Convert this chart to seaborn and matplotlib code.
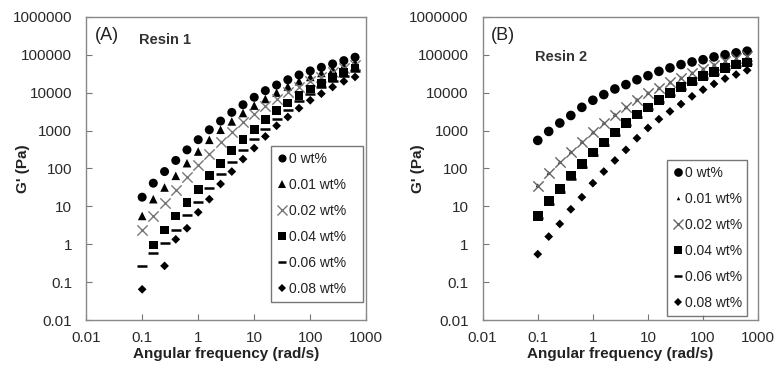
import numpy as np
import pandas as pd
import matplotlib
matplotlib.use("Agg")
import matplotlib.pyplot as plt
import seaborn as sns
from matplotlib.lines import Line2D

sns.set_theme(style="white")
plt.rcParams['font.family'] = ['Liberation Sans', 'DejaVu Sans']

freq = [0.1, 0.158, 0.251, 0.398, 0.631, 1.0, 1.58, 2.51, 3.98, 6.31,
        10.0, 15.8, 25.1, 39.8, 63.1, 100.0, 158.0, 251.0, 398.0, 631.0]

series_labels = ["0 wt%", "0.01 wt%", "0.02 wt%", "0.04 wt%", "0.06 wt%", "0.08 wt%"]

# Resin 1 (panel A); None = point not shown
r1_0 = [17.5, 41, 83, 163, 310, 575, 1050, 1780, 3020, 4800,
        7550, 11300, 15900, 21900, 29300, 37500, 46600, 57300, 70000, 86000]
r1_001 = [5.6, 15.5, 31.5, 64, 138, 280, 570, 1050, 1740, 2900,
          4550, 6800, 10000, 14500, 20000, 26000, 33000, 41000, 50000, 62000]
r1_002 = [2.4, 5.6, 12.6, 27, 61, 125, 245, 490, 890, 1650,
          2780, 4360, 6800, 10200, 14100, 19900, 26000, 35000, 45000, 54000]
r1_004 = [None, 0.96, 2.4, 5.6, 12.9, 28, 64, 138, 293, 570,
          1050, 1940, 3330, 5350, 8300, 12500, 18000, 25500, 34500, 45000]
r1_006 = [0.26, 0.58, 1.1, 2.4, 6.0, 13.4, 30, 71, 152, 300,
          600, 1100, 2000, 3550, 5900, 9200, 14000, 20500, 28000, 38000]
r1_008 = [0.065, None, 0.27, 1.35, 2.65, 7.0, 15.5, 39, 83, 177,
          345, 700, 1340, 2280, 3900, 6300, 9400, 14100, 19900, 26000]

# Resin 2 (panel B)
r2_0 = [550, 950, 1580, 2500, 4100, 6300, 8900, 12500, 16300, 21900,
        28000, 36500, 45000, 55000, 64500, 74000, 87500, 100000, 112000, 124000]
r2_001 = [36, 76, 148, 275, 510, 900, 1600, 2650, 4150, 6550,
          9900, 13300, 18800, 24600, 33000, 43000, 55000, 67000, 80000, 92000]
r2_002 = [35, 75, 145, 270, 500, 890, 1580, 2630, 4100, 6500,
          9800, 13200, 18700, 24500, 33000, 43000, 55000, 67000, 80000, 92000]
r2_004 = [5.6, 14, 29, 65, 130, 265, 490, 890, 1580, 2630,
          4100, 6500, 9800, 14100, 19900, 27000, 35000, 45000, 55000, 63000]
r2_006 = [4.9, 11.5, 24, 53, 110, 225, 420, 770, 1380, 2300,
          3600, 5800, 8800, 12800, 18000, 24500, 32000, 41000, 51000, 58000]
r2_008 = [0.55, 1.6, 3.45, 8.4, 17.5, 41, 83, 163, 310, 630,
          1170, 2000, 3200, 5000, 8000, 12000, 17000, 23500, 30000, 39000]

yticks = [0.01, 0.1, 1, 10, 100, 1000, 10000, 100000, 1000000]
ytick_labels = ["0.01", "0.1", "1", "10", "100", "1000", "10000", "100000", "1000000"]
xticks = [0.01, 0.1, 1, 10, 100, 1000]
xtick_labels = ["0.01", "0.1", "1", "10", "100", "1000"]

styles_A = [
    dict(marker="o", s=42, color="black", linewidth=0),
    dict(marker="^", s=38, color="black", linewidth=0),
    dict(marker="x", s=55, color="#777777", linewidth=1.0),
    dict(marker="s", s=40, color="black", linewidth=0),
    dict(marker="_", s=50, color="black", linewidth=1.8),
    dict(marker="D", s=20, color="black", linewidth=0),
]
styles_B = [
    dict(marker="o", s=48, color="black", linewidth=0),
    dict(marker="^", s=8, color="black", linewidth=0),
    dict(marker="x", s=55, color="#666666", linewidth=1.0),
    dict(marker="s", s=48, color="black", linewidth=0),
    dict(marker="_", s=50, color="black", linewidth=1.8),
    dict(marker="D", s=20, color="black", linewidth=0),
]


def make_df(cols):
    rows = []
    for lab, vals in zip(series_labels, cols):
        for f, v in zip(freq, vals):
            if v is not None:
                rows.append((f, v, lab))
    return pd.DataFrame(rows, columns=["freq", "G", "conc"])


fig = plt.figure(figsize=(7.76, 3.74), dpi=100)
axA = fig.add_axes([0.111, 0.144, 0.361, 0.811])
axB = fig.add_axes([0.622, 0.144, 0.355, 0.811])

panels = [
    (axA, make_df([r1_0, r1_001, r1_002, r1_004, r1_006, r1_008]), styles_A,
     "(A)", "Resin 1", (0.19, 0.925), (0.66, 0.06, 0.33, 0.5), -0.2),
    (axB, make_df([r2_0, r2_001, r2_002, r2_004, r2_006, r2_008]), styles_B,
     "(B)", "Resin 2", (0.19, 0.868), (0.669, 0.013, 0.29, 0.5), -0.21),
]

for ax, df, styles, tag, resin, rpos, lbox, ylx in panels:
    handles = []
    for lab, st in zip(series_labels, styles):
        sub = df[df["conc"] == lab]
        sns.scatterplot(data=sub, x="freq", y="G", ax=ax, marker=st["marker"],
                        s=st["s"], color=st["color"], linewidth=st["linewidth"],
                        edgecolor=st["color"] if st["marker"] in ("x", "_") else "none",
                        legend=False, zorder=3)
        ms = np.sqrt(st["s"]) * 0.9
        if st["marker"] in ("x", "_"):
            h = Line2D([], [], linestyle="", marker=st["marker"], markersize=ms,
                       color=st["color"], markeredgewidth=st["linewidth"])
        else:
            h = Line2D([], [], linestyle="", marker=st["marker"], markersize=ms,
                       color=st["color"], markeredgewidth=0)
        handles.append(h)
    ax.set_xscale("log")
    ax.set_yscale("log")
    ax.set_xlim(0.01, 1000)
    ax.set_ylim(0.01, 1000000)
    ax.set_xticks(xticks)
    ax.set_xticklabels(xtick_labels)
    ax.set_yticks(yticks)
    ax.set_yticklabels(ytick_labels)
    ax.minorticks_off()
    ax.tick_params(axis="both", which="major", direction="in", length=4,
                   width=0.8, color="#777777", labelsize=11,
                   labelcolor="#2a2a2a", left=True, bottom=True)
    ax.tick_params(axis="y", pad=10)
    ax.tick_params(axis="x", pad=8)
    for sp in ax.spines.values():
        sp.set_color("#888888")
        sp.set_linewidth(1.0)
    ax.set_xlabel("Angular frequency (rad/s)", fontsize=11, fontweight="bold",
                  color="#222222")
    ax.xaxis.set_label_coords(0.5, -0.09)
    ax.set_ylabel("G' (Pa)", fontsize=11, fontweight="bold", color="#222222")
    ax.yaxis.set_label_coords(ylx, 0.5)
    ax.text(0.03, 0.965, tag, transform=ax.transAxes, fontsize=13,
            va="top", ha="left", color="#222222")
    ax.text(rpos[0], rpos[1], resin, transform=ax.transAxes, fontsize=10.5,
            fontweight="bold", va="center", ha="left", color="#333333")
    leg = ax.legend(handles, series_labels, loc="lower left",
                    bbox_to_anchor=lbox, mode="expand", frameon=True,
                    fancybox=False, fontsize=10, handlelength=0.7,
                    handletextpad=0.15, labelspacing=0.86, borderpad=0.45,
                    borderaxespad=0, labelcolor="#222222")
    leg.get_frame().set_edgecolor("#555555")
    leg.get_frame().set_linewidth(1.0)

fig.savefig("out.png", dpi=100)
